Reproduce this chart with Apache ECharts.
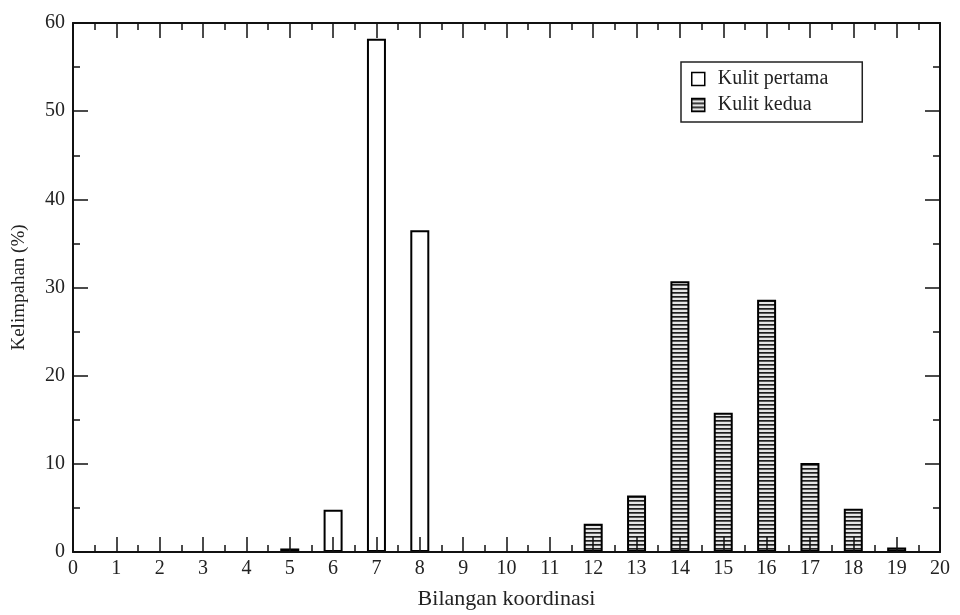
<!DOCTYPE html>
<html>
<head>
<meta charset="utf-8">
<script src="https://cdn.jsdelivr.net/npm/echarts@6/dist/echarts.min.js"></script>
<style>html,body{margin:0;padding:0;background:#fff}#c{width:960px;height:615px}</style>
</head>
<body>
<div id="c"></div>
<script>
// Data
const firstShellX = [5, 6, 7, 8];
const firstShellY = [0.4, 4.8, 58.2, 36.5];
const secondShellX = [12, 13, 14, 15, 16, 17, 18, 19];
const secondShellY = [3.2, 6.4, 30.7, 15.8, 28.6, 10.1, 4.9, 0.5];
const seriesNames = ['Kulit pertama', 'Kulit kedua'];
const xTitle = 'Bilangan koordinasi';
const yTitle = 'Kelimpahan (%)';

const font = 'Liberation Serif, Times New Roman, serif';

// hatch pattern (horizontal lines)
const pc = document.createElement('canvas');
pc.width = 8; pc.height = 4;
const pctx = pc.getContext('2d');
pctx.fillStyle = '#e6e6e6'; pctx.fillRect(0, 0, 8, 4);
pctx.fillStyle = '#1e1e1e'; pctx.fillRect(0, 0, 8, 1);
pctx.fillStyle = '#5a5a5a'; pctx.fillRect(0, 1, 8, 1);
const hatch = { image: pc, repeat: 'repeat' };

const chart = echarts.init(document.getElementById('c'), null, { renderer: 'canvas' });

const tickStyle = { color: '#111', width: 1.5 };
function xAx(pos, labels) {
  return {
    type: 'value', position: pos, min: 0, max: 20, interval: 1, z: 5,
    name: labels ? xTitle : '', nameLocation: 'middle', nameGap: 36,
    nameTextStyle: { fontFamily: font, fontSize: 22, color: '#222' },
    axisLine: { show: true, onZero: false, lineStyle: { color: '#111', width: 2 } },
    axisTick: { show: true, inside: true, length: 15, lineStyle: tickStyle },
    minorTick: { show: true, splitNumber: 2, length: 7, lineStyle: tickStyle },
    axisLabel: { show: labels, margin: 7, fontFamily: font, fontSize: 20, color: '#222' },
    splitLine: { show: false }, minorSplitLine: { show: false }
  };
}
function yAx(pos, labels) {
  return {
    type: 'value', position: pos, min: 0, max: 60, interval: 10, z: 5,
    name: labels ? yTitle : '', nameLocation: 'middle', nameGap: 44,
    nameTextStyle: { fontFamily: font, fontSize: 19, color: '#222' },
    axisLine: { show: true, onZero: false, lineStyle: { color: '#111', width: 2 } },
    axisTick: { show: true, inside: true, length: 15, lineStyle: tickStyle },
    minorTick: { show: true, splitNumber: 2, length: 7, lineStyle: tickStyle },
    axisLabel: { show: labels, margin: 8, fontFamily: font, fontSize: 20, color: '#222' },
    splitLine: { show: false }, minorSplitLine: { show: false }
  };
}

chart.setOption({
  backgroundColor: '#fff',
  animation: false,
  grid: { left: 73, right: 20, top: 23, bottom: 49, containLabel: false },
  legend: {
    left: 681, top: 62, orient: 'vertical',
    padding: [7, 34, 7, 10], itemGap: 6,
    itemWidth: 13, itemHeight: 13,
    borderColor: '#222', borderWidth: 1.5,
    textStyle: { fontFamily: font, fontSize: 20, color: '#222', padding: [0, 0, 0, 8] },
    data: [
      { name: seriesNames[0], icon: 'rect', itemStyle: { color: '#fff', borderColor: '#000', borderWidth: 1.5 } },
      { name: seriesNames[1], icon: 'rect', itemStyle: { color: hatch, borderColor: '#000', borderWidth: 1.5 } }
    ]
  },
  xAxis: [xAx('bottom', true), xAx('top', false)],
  yAxis: [yAx('left', true), yAx('right', false)],
  series: [
    {
      name: seriesNames[0], type: 'bar', xAxisIndex: 0, yAxisIndex: 0,
      barWidth: 19, barGap: '-100%', z: 1,
      itemStyle: { color: '#fff', borderColor: '#000', borderWidth: 2 },
      data: firstShellX.map((x, i) => [x, firstShellY[i]])
    },
    {
      name: seriesNames[1], type: 'bar', xAxisIndex: 0, yAxisIndex: 0,
      barWidth: 19, barGap: '-100%', z: 1,
      itemStyle: { color: hatch, borderColor: '#000', borderWidth: 2 },
      data: secondShellX.map((x, i) => [x, secondShellY[i]])
    }
  ]
});
</script>
</body>
</html>
